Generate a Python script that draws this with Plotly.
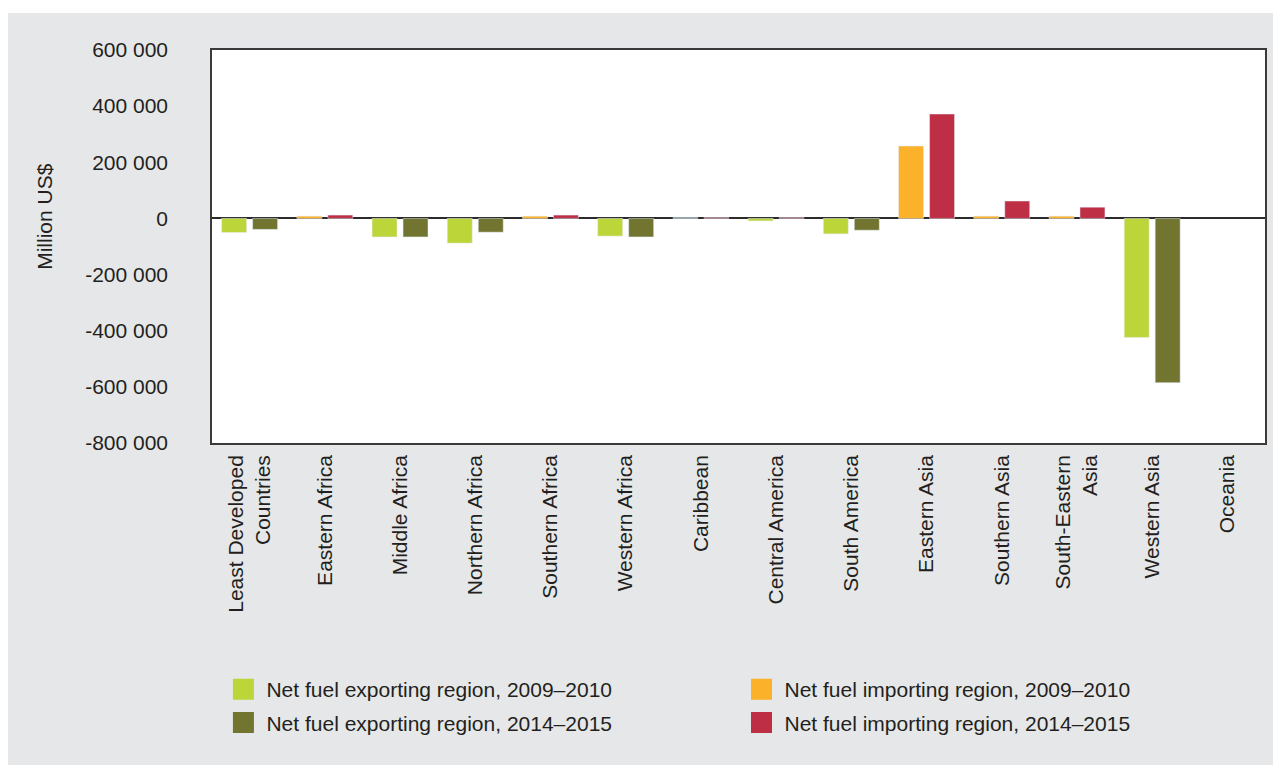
import plotly.graph_objects as go

categories = ["Least Developed<br>Countries", "Eastern Africa", "Middle Africa", "Northern Africa",
              "Southern Africa", "Western Africa", "Caribbean", "Central America", "South America",
              "Eastern Asia", "Southern Asia", "South-Eastern<br>Asia", "Western Asia", "Oceania"]

export_2009 = [-50000, None, -66000, -88000, None, -63000, None, -9000, -55000, None, None, None, -424000, None]
export_2014 = [-39000, None, -66000, -49000, None, -66000, None, None, -42000, None, None, None, -585000, None]
import_2009 = [None, 8000, None, None, 8000, None, 3000, None, None, 258000, 8000, 8000, None, None]
import_2014 = [None, 12000, None, None, 12000, None, 3000, 3000, None, 372000, 62000, 40000, None, None]

y_tickvals = [600000, 400000, 200000, 0, -200000, -400000, -600000, -800000]
y_ticktext = ["600 000", "400 000", "200 000", "0", "-200 000", "-400 000", "-600 000", "-800 000"]

names = ["Net fuel exporting region, 2009–2010", "Net fuel importing region, 2009–2010",
         "Net fuel exporting region, 2014–2015", "Net fuel importing region, 2014–2015"]

GREEN = "#bcd63a"
OLIVE = "#71752f"
ORANGE = "#fbb12a"
RED = "#be2f46"

FONT = "Liberation Sans, Arial, Helvetica, sans-serif"
FS = 21

fig = go.Figure()

# bars
fig.add_trace(go.Bar(x=categories, y=export_2009, marker_color=GREEN, offsetgroup="a",
                     showlegend=False, name=names[0]))
fig.add_trace(go.Bar(x=categories, y=import_2009,
                     marker_color=[("#8fb3c6" if c == "Caribbean" else ORANGE) for c in categories],
                     offsetgroup="a", showlegend=False, name=names[1]))
fig.add_trace(go.Bar(x=categories, y=export_2014, marker_color=OLIVE, offsetgroup="b",
                     showlegend=False, name=names[2]))
fig.add_trace(go.Bar(x=categories, y=import_2014, marker_color=RED, offsetgroup="b",
                     showlegend=False, name=names[3]))

# legend proxies (larger square symbols); exporting -> left legend, importing -> right legend
legend_ids = ["legend", "legend2", "legend", "legend2"]
for i, (nm, col) in enumerate(zip(names, [GREEN, ORANGE, OLIVE, RED])):
    fig.add_trace(go.Scatter(x=[None], y=[None], mode="markers", name=nm,
                             legend=legend_ids[i], legendgroup=f"g{i}",
                             marker=dict(symbol="square", size=16, color=col,
                                         line=dict(color=col, width=5))))

legend_style = dict(orientation="v", yanchor="top", xanchor="left",
                    traceorder="grouped", tracegroupgap=3,
                    bgcolor="rgba(0,0,0,0)",
                    font=dict(size=FS, family=FONT, color="#231f20"),
                    itemwidth=36)

fig.update_layout(
    width=1273, height=757,
    paper_bgcolor="#e6e7e8",
    plot_bgcolor="#ffffff",
    margin=dict(l=204, r=16, t=42, b=322, autoexpand=False),
    font=dict(family=FONT, size=FS, color="#231f20"),
    barmode="group",
    bargap=0.176,
    bargroupgap=0.194,
    showlegend=True,
    legend=dict(x=0.008, y=-0.575, **legend_style),
    legend2=dict(x=0.5, y=-0.575, **legend_style),
    shapes=[
        dict(type="rect", xref="paper", yref="paper", x0=-0.2, x1=1.02, y0=1.094, y1=1.2,
             fillcolor="#ffffff", line=dict(width=0), layer="below"),
    ],
    annotations=[
        dict(text="Million US$", xref="paper", yref="paper", x=-0.1586, y=0.578,
             textangle=-90, showarrow=False, font=dict(size=FS, family=FONT, color="#231f20"),
             xanchor="center", yanchor="middle"),
    ],
)

fig.update_xaxes(
    type="category",
    tickangle=-90,
    automargin=False,
    showline=True, linecolor="#3a3a3a", linewidth=1.5, mirror=True,
    showgrid=False, ticks="",
    ticklabelstandoff=2,
    tickfont=dict(size=FS, family=FONT, color="#231f20"),
)
fig.update_yaxes(
    range=[-800000, 600000],
    automargin=False,
    tickvals=y_tickvals, ticktext=y_ticktext,
    showline=True, linecolor="#3a3a3a", linewidth=1.5, mirror=True,
    showgrid=False, ticks="",
    zeroline=True, zerolinecolor="#2b2b2b", zerolinewidth=2,
    ticklabelstandoff=38,
    tickfont=dict(size=FS, family=FONT, color="#231f20"),
)

fig.write_html("out.html")
